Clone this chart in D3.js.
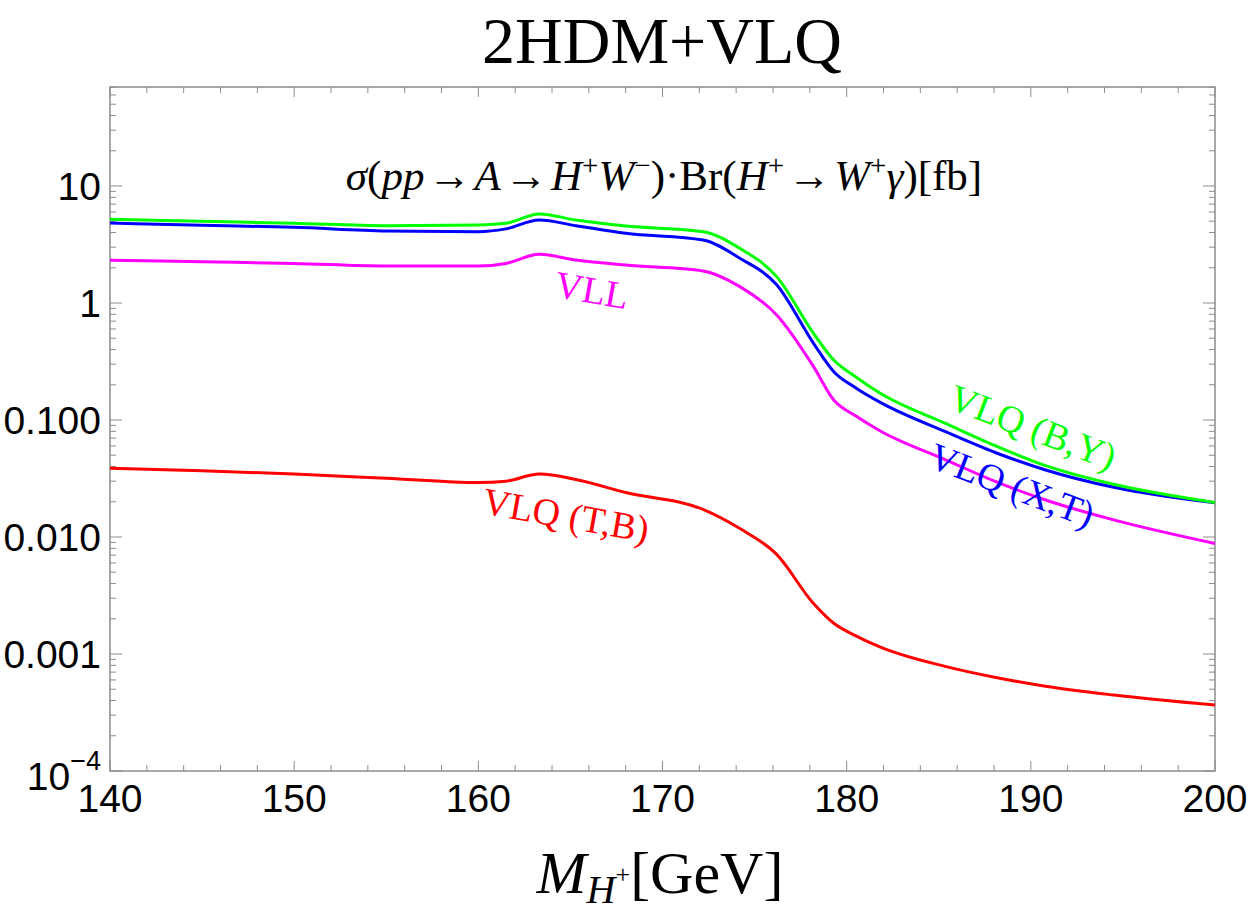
<!DOCTYPE html>
<html><head><meta charset="utf-8">
<script src="https://cdn.jsdelivr.net/npm/d3@7"></script>
<style>body{margin:0;background:#fff}svg{display:block}</style>
</head><body>
<svg id="c" width="1250" height="909"></svg>
<script>
const masses = [140,145,150,155,160,161.5,163.3,165.3,168,172.2,174.2,176.2,178.2,179.3,180.5,181.8,185.4,188.1,190.8,194.5,200];
const vlqBY  = [5.19,4.99,4.8,4.58,4.65,4.8,5.77,5.12,4.55,4.07,2.93,1.68,0.55,0.326,0.233,0.17,0.093,0.060,0.0407,0.0282,0.0197];
const vlqXT  = [4.83,4.62,4.44,4.13,4.07,4.3,5.12,4.58,3.94,3.45,2.41,1.43,0.452,0.259,0.188,0.142,0.079,0.0525,0.0374,0.0266,0.0196];
const vll    = [2.32,2.25,2.18,2.07,2.07,2.18,2.61,2.33,2.11,1.88,1.38,0.79,0.286,0.148,0.108,0.081,0.0455,0.0297,0.0207,0.014,0.0088];
const vlqTB  = [0.0387,0.0369,0.0345,0.0318,0.0292,0.030,0.0345,0.031,0.024,0.0172,0.0118,0.0071,0.0027,0.00183,0.00143,0.00115,0.00078,0.00063,0.00053,0.000446,0.000366];
const xTicks = [140,150,160,170,180,190,200];
const yTicks = [10,1,0.1,0.01,0.001,0.0001];
const yTickLabels = ["10","1","0.100","0.010","0.001","10^-4"];

const svg = d3.select("#c");
const L=110, R=1215, T=87, B=771;
const x = d3.scaleLinear().domain([140,200]).range([L,R]);
const yTop = Math.pow(10, 1 + (186-T)/117);
const y = d3.scaleLog().domain([1e-4, yTop]).range([B,T]);

svg.append("defs").append("clipPath").attr("id","clip")
  .append("rect").attr("x",L).attr("y",T).attr("width",R-L).attr("height",B-T);

const gray = "#8c8c8c";
svg.append("rect").attr("x",L).attr("y",T).attr("width",R-L).attr("height",B-T)
  .attr("fill","none").attr("stroke",gray).attr("stroke-width",1.5);

const xMinor = d3.range(140,200.01,2).filter(v=>v%10!==0);
const tg = svg.append("g").attr("stroke",gray).attr("stroke-width",1);
xTicks.forEach(v=>{
  tg.append("line").attr("x1",x(v)).attr("x2",x(v)).attr("y1",B).attr("y2",B-10);
  tg.append("line").attr("x1",x(v)).attr("x2",x(v)).attr("y1",T).attr("y2",T+10);
});
xMinor.forEach(v=>{
  tg.append("line").attr("x1",x(v)).attr("x2",x(v)).attr("y1",B).attr("y2",B-6);
  tg.append("line").attr("x1",x(v)).attr("x2",x(v)).attr("y1",T).attr("y2",T+6);
});
const yMinor = [];
[1e-4,1e-3,1e-2,1e-1,1,10].forEach(d=>{ for(let k=2;k<=9;k++){ const v=d*k; if(v<=yTop) yMinor.push(v);} });
yTicks.forEach(v=>{
  tg.append("line").attr("x1",L).attr("x2",L+12).attr("y1",y(v)).attr("y2",y(v));
  tg.append("line").attr("x1",R).attr("x2",R-12).attr("y1",y(v)).attr("y2",y(v));
});
yMinor.forEach(v=>{
  tg.append("line").attr("x1",L).attr("x2",L+6).attr("y1",y(v)).attr("y2",y(v));
  tg.append("line").attr("x1",R).attr("x2",R-6).attr("y1",y(v)).attr("y2",y(v));
});

const sans = "'Liberation Sans', Arial, sans-serif";
xTicks.forEach(v=>{
  svg.append("text").attr("x",x(v)).attr("y",812).attr("text-anchor","middle")
    .attr("font-family",sans).attr("font-size",39).text(v);
});
yTicks.forEach((v,i)=>{
  const lab = yTickLabels[i];
  if(lab.includes("^")){
    const [b,e] = lab.split("^");
    const t = svg.append("text").attr("x",101).attr("y",790).attr("text-anchor","end")
      .attr("font-family",sans).attr("font-size",39);
    t.append("tspan").text(b);
    t.append("tspan").attr("dy",-20).attr("font-size",27).text(e.replace("-","\u2212"));
  } else {
    svg.append("text").attr("x",101).attr("y",y(v)+14).attr("text-anchor","end")
      .attr("font-family",sans).attr("font-size",39).text(lab);
  }
});

const serif = "'Liberation Serif','Times New Roman',serif";
const line = d3.line().x((d,i)=>x(masses[i])).y(d=>y(d)).curve(d3.curveMonotoneX);
const series = [
  {v:vll, c:"#ff00ff"},
  {v:vlqTB, c:"#ff0000"},
  {v:vlqXT, c:"#0000ff"},
  {v:vlqBY, c:"#00ff00"}
];
const lg = svg.append("g").attr("clip-path","url(#clip)");
series.forEach(s=>{
  lg.append("path").attr("d",line(s.v)).attr("fill","none").attr("stroke",s.c).attr("stroke-width",3);
});

function lab(txt,cx,cy,rot,col){
  svg.append("text").attr("transform",`translate(${cx},${cy}) rotate(${rot})`)
    .attr("text-anchor","middle").attr("dominant-baseline","central")
    .attr("font-family",serif).attr("font-size",38).attr("fill",col).text(txt);
}
lab("VLL",592,290,10,"#ff00ff");
lab("VLQ (T,B)",566,515,10,"#ff0000");
lab("VLQ (B,Y)",1033,427,21,"#00ff00");
lab("VLQ (X,T)",1012,485,21,"#0000ff");

svg.append("text").attr("x",662).attr("y",63).attr("text-anchor","middle")
  .attr("font-family",serif).attr("font-size",66).text("2HDM+VLQ");

const f = svg.append("text").attr("x",664).attr("y",190).attr("text-anchor","middle")
  .attr("font-family",serif).attr("font-size",43);
const ar = "\u200A\u2192\u200A";
const parts = [
  ["\u03C3","i"],["(","n"],["pp","i"],[ar,"n"],["A","i"],[ar,"n"],["H","i"],["+","sup"],["W","i"],["\u2212","sup"],
  [")\u00B7Br(","n"],["H","i"],["+","sup"],[ar,"n"],["W","i"],["+","sup"],["\u03B3","i"],[")[fb]","n"]
];
let raised=false;
parts.forEach(([t,k])=>{
  const s = f.append("tspan").text(t);
  if(k==="i") s.attr("font-style","italic");
  if(k==="sup"){ s.attr("font-size",29); if(!raised){ s.attr("dy",-15); raised=true; } }
  else if(raised){ s.attr("dy",15); raised=false; }
});

const xl = svg.append("text").attr("x",660).attr("y",893).attr("text-anchor","middle")
  .attr("font-family",serif).attr("font-size",60);
xl.append("tspan").attr("font-style","italic").text("M");
xl.append("tspan").attr("font-style","italic").attr("font-size",40).attr("dy",10).text("H");
xl.append("tspan").attr("font-size",26).attr("dy",-20).text("+");
xl.append("tspan").attr("dy",10).text("[GeV]");
</script>
</body></html>
